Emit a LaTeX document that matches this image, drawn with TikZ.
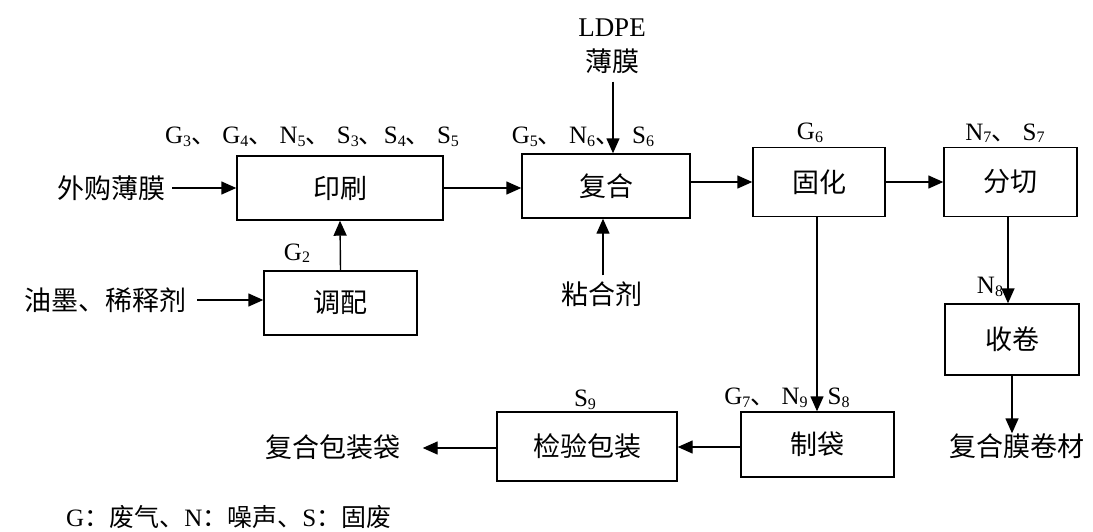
\documentclass[tikz,border=0pt]{standalone}
\usepackage{fontspec}
\setmainfont{Liberation Serif}
\newfontfamily\cjk{Noto Sans CJK SC}
\usetikzlibrary{arrows.meta}
\newcommand{\sbs}[1]{\raisebox{-2.5pt}{\fontsize{16}{16}\selectfont #1}}
\newcommand{\dn}{{\cjk 、}}
\begin{document}
\begin{tikzpicture}[x=1pt,y=-1pt,
  procbox/.style={draw,line width=1.4pt,inner sep=0pt,font=\cjk\fontsize{27}{30}\selectfont},
  cjktxt/.style={inner sep=0pt,font=\cjk\fontsize{27}{30}\selectfont},
  lbl/.style={inner sep=0pt,font=\fontsize{25}{28}\selectfont},
  flow/.style={line width=1.4pt,-{Triangle[length=15pt,width=13pt]}}]
\useasboundingbox (0,0) rectangle (1093,531);
% process boxes
\node[procbox,minimum width=206pt,minimum height=64pt] (yinshua) at (340,188) {印刷};
\node[procbox,minimum width=168pt,minimum height=64pt] (fuhe) at (606,186) {复合};
\node[procbox,minimum width=132pt,minimum height=69pt] (guhua) at (819,182) {固化};
\node[procbox,minimum width=133pt,minimum height=69pt] (fenqie) at (1010.5,182) {分切};
\node[procbox,minimum width=153pt,minimum height=64pt] (tiaopei) at (340.5,303) {调配};
\node[procbox,minimum width=134pt,minimum height=71pt] (shoujuan) at (1012,339.5) {收卷};
\node[procbox,minimum width=180pt,minimum height=69pt] (jianyan) at (587,446.5) {检验包装};
\node[procbox,minimum width=153pt,minimum height=65pt] (zhidai) at (817.5,444.5) {制袋};
% inputs / outputs
\node[cjktxt,anchor=east] (waigou) at (166,188) {外购薄膜};
\node[cjktxt,anchor=east] (youmo) at (187,300) {油墨、稀释剂};
\node[cjktxt] (zhj) at (602,294) {粘合剂};
\node[align=center,inner sep=0pt,font=\fontsize{27}{35}\selectfont] (ldpe) at (612,46) {LDPE\\{\cjk\fontsize{27}{30}\selectfont 薄膜}};
\node[cjktxt] (juancai) at (1017,446) {复合膜卷材};
\node[cjktxt] (baozhuang) at (333,447) {复合包装袋};
% labels
\node[lbl] (l1) at (312,137) {G\sbs{3}\dn{} G\sbs{4}\dn{} N\sbs{5}\dn{} S\sbs{3}\dn S\sbs{4}\dn{} S\sbs{5}};
\node[lbl] (l2) at (297,253) {G\sbs{2}};
\node[lbl] (l3) at (583,137) {G\sbs{5}\dn{} N\sbs{6}\dn{}\hspace{12pt}S\sbs{6}};
\node[lbl] (l4) at (810,133) {G\sbs{6}};
\node[lbl] (l5) at (1005,133) {N\sbs{7}\dn{} S\sbs{7}};
\node[lbl] (l6) at (990,287) {N\sbs{8}};
\node[lbl] (l7) at (787,398) {G\sbs{7}\dn{} N\sbs{9}\hspace{20pt}S\sbs{8}};
\node[lbl] (l8) at (585,400) {S\sbs{9}};
\node[lbl,anchor=west] (legend) at (66,517) {G{\cjk ：废气、}N{\cjk ：噪声、}S{\cjk ：固废}};
% connectors
\draw[flow] (waigou.east) ++(6,0) coordinate (wg) (wg) -- (wg -| yinshua.west);
\draw[flow] (youmo.east) ++(10,0) coordinate (ym) (ym) -- (ym -| tiaopei.west);
\draw[flow] (tiaopei.north) -- (yinshua.south);
\draw[flow] (yinshua.east) -- (fuhe.west |- yinshua.east);
\draw[flow] (fuhe.east) ++(0,-4) coordinate (fe) (fe) -- (fe -| guhua.west);
\draw[flow] (guhua.east) -- (fenqie.west);
\draw[flow] (ldpe.south) ++(1,8) coordinate (ld) (ld) -- (ld |- fuhe.north);
\draw[flow] (zhj.north) ++(1,-6) coordinate (zj) (zj) -- (zj |- fuhe.south);
\draw[flow] (guhua.south) ++(-2,0) coordinate (gs) (gs) -- (gs |- zhidai.north);
\draw[flow] (fenqie.south) ++(-2.5,0) coordinate (fs) (fs) -- (fs |- shoujuan.north);
\draw[flow] (shoujuan.south) -- (shoujuan.south |- juancai.north);
\draw[flow] (zhidai.west) ++(0,2.5) coordinate (zw) (zw) -- (zw -| jianyan.east);
\path (baozhuang.east) ++(22,0) coordinate (bz);
\draw[flow] (jianyan.west) ++(0,1.5) coordinate (jw) (jw) -- (jw -| bz);
\end{tikzpicture}
\end{document}
